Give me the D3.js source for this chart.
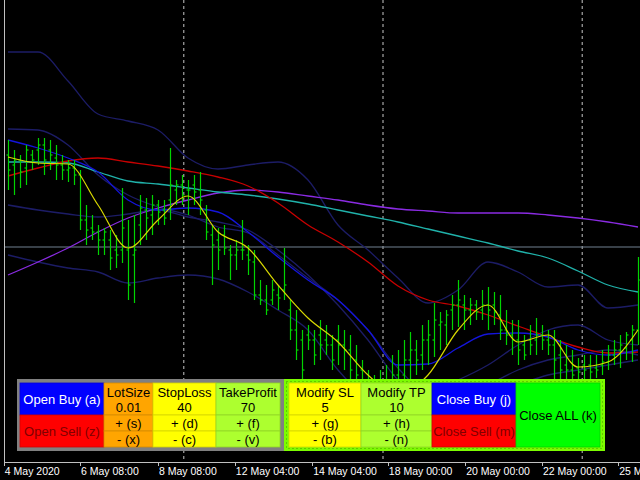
<!DOCTYPE html>
<html>
<head>
<meta charset="utf-8">
<script src="https://cdn.jsdelivr.net/npm/d3@7"></script>
<style>
  body { margin: 0; background: #000; }
  svg { display: block; }
</style>
</head>
<body>
<svg id="chart" width="640" height="480"></svg>
<script>
// prices in points: price = 1 + pts / 10000 (H4 bars)
const barHigh = [860,850,845,855,850,862,862,860,855,845,840,840,830,795,785,775,772,770,765,812,780,785,805,802,805,800,800,852,820,825,820,825,828,795,775,772,775,755,760,780,755,750,
  720,715,720,715,752,700,690,670,675,670,680,675,665,675,670,665,655,640,630,625,630,635,645,650,660,668,660,675,680,697,688,690,705,720,705,702,700,710,713,708,705,690,680,680,665,675,682,675,670,670,660,655,650,642,645,645,645,650,655,660,665,668,675,743]
const barLow = [810,805,812,815,830,835,825,830,820,820,818,815,770,755,760,745,745,730,732,737,700,697,755,760,765,775,775,780,795,795,785,795,785,760,715,730,745,720,730,740,725,700,
  695,685,695,690,700,660,640,620,650,635,640,645,630,635,630,620,615,600,590,580,585,590,600,605,610,615,625,630,635,643,650,655,670,673,670,675,680,680,670,675,660,655,645,635,640,645,645,650,645,620,620,615,610,615,620,620,622,625,630,635,632,640,638,655]
const barOpen = [845,835,840,832,845,850,855,850,842,835,830,832,825,780,772,768,760,760,750,750,750,745,775,790,785,795,790,800,810,815,810,815,810,790,765,760,765,750,745,750,745,738,
  705,700,700,705,710,690,670,660,665,660,665,660,655,660,655,650,640,630,620,610,605,610,620,625,625,640,650,645,660,660,675,675,690,695,695,690,695,690,695,695,685,670,665,660,655,660,660,665,660,655,645,635,630,632,635,635,632,635,638,645,650,652,660,670]
const barClose = [830,840,828,850,840,855,840,845,835,830,832,825,780,770,768,760,768,742,745,772,715,750,792,782,795,788,782,815,815,805,810,808,800,768,755,750,752,745,750,750,740,705,
  700,690,710,702,715,670,650,630,660,645,655,655,640,655,650,630,625,610,605,600,610,615,625,620,640,650,640,660,665,680,678,685,695,700,690,695,688,695,690,688,670,665,660,650,645,655,665,660,655,640,630,630,625,628,630,628,630,638,645,650,655,665,670,720]

// moving averages / bands, one value every 5 bars
const lineBars = d3.range(0, 106, 5)
const fastMA = [843,837,836,795,752,780,804,768,752,715,682,658,625,605,625,670,695,658,665,633,638,670]
const blueMA = [860,852,842,828,800,790,792,788,768,743,720,700,670,635,636,652,666,667,663,650,645,650]
const redMA = [824,832,839,842,838,834,829,823,814,797,775,758,738,714,700,694,685,674,663,653,647,648]
const cyanMA = [838,838,837,828,819,816,812,808,805,801,796,790,784,778,771,764,757,749,742,729,715,708]
const purpleMA = [725,738,752,768,782,792,800,807,810,808,804,800,795,791,789,787,787,787,785,782,778,773]
const bandOuterUp = [948,948,919,886,879,870,842,831,835,838,820,775,750,722,697,710,738,728,713,715,692,695]
const bandInnerUp = [871,870,855,825,805,793,785,773,767,745,722,700,670,632,608,620,635,655,670,675,660,655]
const bandMidLow = [795,790,786,783,786,790,783,778,770,750,725,695,660,620,600,600,615,630,640,645,650,645]
const bandOuterLow = [745,738,732,728,717,722,725,721,708,690,670,630,600,580,580,590,605,615,625,630,635,640]

const dateLabels = ['4 May 2020','6 May 08:00','8 May 08:00','12 May 04:00','14 May 04:00','18 May 00:00','20 May 00:00','22 May 00:00','25 May']
const dateBars = [-0.7, 12, 25, 37.8, 50.7, 63.3, 76.2, 89, 101.7]
const periodSeps = [29.3, 62.5, 95.7]
const hLinePrice = 1.0753

const toPrice = (p) => 1 + p / 10000

const svg = d3.select('#chart')
svg.append('rect').attr('width', 640).attr('height', 480).attr('fill', '#000')

const x = d3.scaleLinear().domain([0, 105]).range([8, 638])
const y = d3.scaleLinear().domain([1.052, 1.1]).range([480, 0])

// period separators
svg.selectAll('.sep').data(periodSeps).enter().append('line')
    .attr('x1', d => x(d)).attr('x2', d => x(d))
    .attr('y1', 0).attr('y2', 462)
    .attr('stroke', '#c8c8c8').attr('stroke-dasharray', '3,3').attr('stroke-width', 1)

svg.append('line')
    .attr('x1', 4).attr('x2', 640)
    .attr('y1', y(hLinePrice)).attr('y2', y(hLinePrice))
    .attr('stroke', '#708090').attr('stroke-width', 1)

const lineGen = d3.line().x((d, i) => x(lineBars[i])).y(d => y(toPrice(d))).curve(d3.curveMonotoneX)

const lines = [
    [bandOuterUp, '#1c1c66'], [bandInnerUp, '#1c1c66'], [bandMidLow, '#1c1c66'], [bandOuterLow, '#1c1c66'],
    [purpleMA, '#8a2be2'], [cyanMA, '#20b2aa'], [redMA, '#c80000'], [blueMA, '#1414dc']
]
lines.forEach(([data, color]) => {
    svg.append('path').datum(data).attr('d', lineGen)
        .attr('fill', 'none').attr('stroke', color).attr('stroke-width', 1.3)
})

// OHLC bars
const bars = svg.append('g').attr('stroke', '#00d400').attr('stroke-width', 1.2)
barHigh.forEach((h, i) => {
    const cx = Math.round(x(i)) + 0.5
    bars.append('line').attr('x1', cx).attr('x2', cx).attr('y1', y(toPrice(h))).attr('y2', y(toPrice(barLow[i])))
    bars.append('line').attr('x1', cx - 2).attr('x2', cx).attr('y1', y(toPrice(barOpen[i]))).attr('y2', y(toPrice(barOpen[i])))
    bars.append('line').attr('x1', cx).attr('x2', cx + 2).attr('y1', y(toPrice(barClose[i]))).attr('y2', y(toPrice(barClose[i])))
})

svg.append('path').datum(fastMA).attr('d', lineGen)
    .attr('fill', 'none').attr('stroke', '#d8d800').attr('stroke-width', 1.2)

// axes frame
svg.append('rect').attr('x', 0).attr('y', 462).attr('width', 640).attr('height', 18).attr('fill', '#000')
svg.append('line').attr('x1', 4.5).attr('x2', 4.5).attr('y1', 0).attr('y2', 462).attr('stroke', '#c0c0c0')
svg.append('line').attr('x1', 4).attr('x2', 640).attr('y1', 462.5).attr('y2', 462.5).attr('stroke', '#c0c0c0')

svg.selectAll('.tick').data(dateBars).enter().append('line')
    .attr('x1', d => Math.round(x(d)) + 0.5).attr('x2', d => Math.round(x(d)) + 0.5)
    .attr('y1', 462).attr('y2', 466).attr('stroke', '#c0c0c0')
svg.selectAll('.dl').data(dateLabels).enter().append('text')
    .attr('x', (d, i) => x(dateBars[i]) + 1).attr('y', 475)
    .attr('fill', '#fff').attr('font-family', 'Liberation Sans, Arial').attr('font-size', 10.5)
    .text(d => d)

// trade panel
const panel = svg.append('g').attr('font-family', 'Liberation Sans, Arial').attr('font-size', 13)
panel.append('rect').attr('x', 17).attr('y', 379).attr('width', 267).attr('height', 72).attr('fill', '#808080')
panel.append('rect').attr('x', 284).attr('y', 379).attr('width', 321).attr('height', 72).attr('fill', '#7cfc00')
panel.append('rect').attr('x', 286.5).attr('y', 381.5).attr('width', 316).attr('height', 67)
    .attr('fill', 'none').attr('stroke', '#000').attr('stroke-opacity', 0.4).attr('stroke-dasharray', '1,3')

function cell(x0, y0, w, h, fill, label, color, dy) {
    panel.append('rect').attr('x', x0).attr('y', y0).attr('width', w).attr('height', h)
        .attr('fill', fill).attr('stroke', d3.color(fill).darker(0.5)).attr('stroke-width', 0.8)
    if (label) panel.append('text').attr('x', x0 + w / 2).attr('y', y0 + h / 2 + (dy || 5))
        .attr('text-anchor', 'middle').attr('fill', color).text(label)
}

cell(20, 383, 84, 32, '#0000ff', 'Open Buy (a)', '#fff')
cell(20, 415, 84, 32, '#ff0000', 'Open Sell (z)', '#800000')

const settings = [
    ['LotSize', '0.01', '(s)', '(x)', 104, 49, '#ffa500'],
    ['StopLoss', '40', '(d)', '(c)', 153, 63, '#ffff00'],
    ['TakeProfit', '70', '(f)', '(v)', 216, 64, '#adff2f'],
    ['Modify SL', '5', '(g)', '(b)', 289, 72, '#ffff00'],
    ['Modify TP', '10', '(h)', '(n)', 361, 71, '#adff2f']
]
settings.forEach(([name, val, plus, minus, x0, w, fill]) => {
    cell(x0, 383, w, 32, fill)
    panel.append('text').attr('x', x0 + w / 2).attr('y', 397).attr('text-anchor', 'middle').text(name)
    panel.append('text').attr('x', x0 + w / 2).attr('y', 412).attr('text-anchor', 'middle').text(val)
    cell(x0, 415, w, 16, fill, '+ ' + plus, '#000', 4.5)
    cell(x0, 431, w, 16, fill, '- ' + minus, '#000', 4.5)
})

cell(432, 383, 84, 32, '#0000ff', 'Close Buy (j)', '#fff')
cell(432, 415, 84, 32, '#ff0000', 'Close Sell (m)', '#800000')
cell(516, 383, 84, 64, '#00ff00', 'Close ALL (k)', '#000')
</script>
</body>
</html>
